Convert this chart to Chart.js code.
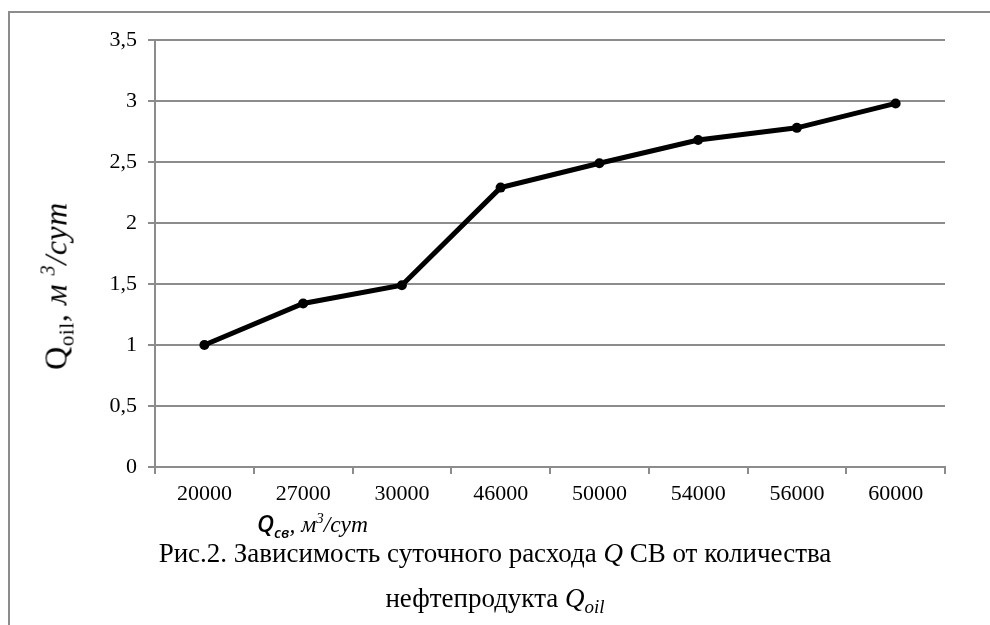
<!DOCTYPE html>
<html>
<head>
<meta charset="utf-8">
<script src="https://cdn.jsdelivr.net/npm/chart.js@4.4.1/dist/chart.umd.min.js"></script>
<style>
  body { margin: 0; background: #fff; }
  #wrap { position: relative; width: 990px; height: 625px; overflow: hidden; }
  #frame { position: absolute; left: 8px; top: 11px; width: 1000px; height: 700px;
           border-left: 2px solid #8c8c8c; border-top: 2px solid #8c8c8c; }
  canvas { position: absolute; left: 0; top: 0; }
  .serif { font-family: "Liberation Serif", "Times New Roman", serif; color: #000; }
  #ytitle { position: absolute; left: 56px; top: 286px; white-space: nowrap; letter-spacing: 0.6px;
            font-size: 32px; transform: translate(-50%, -50%) rotate(-90deg); }
  #xtitle { position: absolute; left: 257px; top: 507px; white-space: nowrap; font-size: 23.5px; }
  #xtitle .q { font-family: "Open Sans", "Liberation Sans", sans-serif; font-style: italic; font-weight: 600; }
  .cap { position: absolute; left: 0; width: 990px; text-align: center; font-size: 27px; white-space: nowrap; }
  sub, sup { line-height: 0; }
</style>
</head>
<body>
<div id="wrap">
  <div id="frame"></div>
  <canvas id="chart" width="990" height="625"></canvas>
  <div id="ytitle" class="serif">Q<sub style="font-size:21px">oil</sub>, <i>м <sup style="font-size:20px">3</sup>/сут</i></div>
  <div id="xtitle" class="serif"><span class="q">Q<sub style="font-size:15px">св</sub></span><i>, м<sup style="font-size:15px">3</sup>/сут</i></div>
  <div class="cap serif" style="top:538px">Рис.2. Зависимость суточного расхода <i>Q</i> СВ от количества</div>
  <div class="cap serif" style="top:583px">нефтепродукта <i>Q<sub style="font-size:19px">oil</sub></i></div>
</div>
<script>
// расход СВ, м3/сут
const categories = ['20000', '27000', '30000', '46000', '50000', '54000', '56000', '60000'];
// Q oil, м3/сут
const qOil = [1.0, 1.34, 1.49, 2.29, 2.49, 2.68, 2.78, 2.98];
const yMin = 0;
const yMax = 3.5;
const yStep = 0.5;

const gridColor = '#8c8c8c';
const tickFont = { family: "'Liberation Serif', 'Times New Roman', serif", size: 22 };

new Chart(document.getElementById('chart').getContext('2d'), {
  type: 'line',
  data: {
    labels: categories,
    datasets: [{
      data: qOil,
      borderColor: '#000',
      backgroundColor: '#000',
      borderWidth: 5,
      pointRadius: 5,
      pointBackgroundColor: '#000',
      pointBorderWidth: 0,
      tension: 0,
    }],
  },
  options: {
    responsive: false,
    animation: false,
    devicePixelRatio: 1,
    layout: { padding: { top: 40, right: 45, left: 0, bottom: 0 } },
    plugins: { legend: { display: false }, tooltip: { enabled: false } },
    scales: {
      x: {
        offset: true,
        afterFit: (s) => { s.height = 158; },
        grid: { display: true, drawOnChartArea: false, drawTicks: true, tickLength: 7, color: gridColor, lineWidth: 2, offset: true },
        border: { color: gridColor, width: 2 },
        ticks: { color: '#000', font: tickFont, padding: 7, maxRotation: 0 },
      },
      y: {
        min: yMin,
        max: yMax,
        afterFit: (s) => { s.width = 155; },
        grid: { color: gridColor, lineWidth: 2, tickLength: 7 },
        border: { color: gridColor, width: 2 },
        ticks: {
          stepSize: yStep,
          color: '#000',
          font: tickFont,
          padding: 11,
          callback: (v) => String(v).replace('.', ','),
        },
      },
    },
  },
});
</script>
</body>
</html>
